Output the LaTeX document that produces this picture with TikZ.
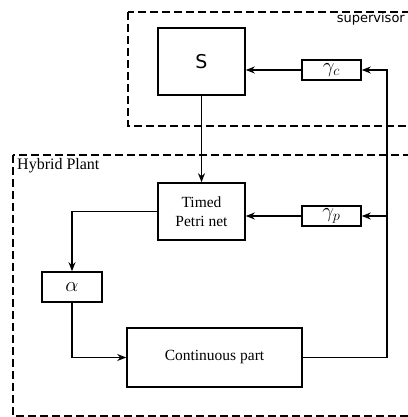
\documentclass[tikz,border=0pt]{standalone}
\usepackage{fontspec}
\setmainfont{Liberation Serif}
\setsansfont{DejaVu Sans}
\usetikzlibrary{arrows.meta}
\begin{document}
\begin{tikzpicture}[x=1pt,y=-1pt,
  blk/.style={draw,line width=1.6pt,minimum width=#1,inner sep=0pt,align=center,font=\fontsize{15.5}{19}\selectfont},
  sym/.style={font=\fontsize{20}{22}\selectfont},
  region/.style={draw,line width=1.8pt,dash pattern=on 8pt off 4pt},
  conn/.style={line width=1.5pt},
  arr/.style={conn,-{Stealth[length=9pt,width=7pt]}}]
\useasboundingbox (0,0) rectangle (407,417);
% regions
\draw[region] (128,12) rectangle (425,126);
\node[anchor=south east,font=\sffamily\fontsize{13}{15}\selectfont,inner sep=0pt] (suplbl) at (405,25) {supervisor};
\draw[region] (13,155) rectangle (425,416);
\node[anchor=south west,font=\fontsize{16}{18}\selectfont,inner sep=0pt] (hplbl) at (17,173) {Hybrid Plant};
% blocks
\node[blk=87pt,minimum height=67pt,font=\sffamily\fontsize{19}{22}\selectfont] (S) at (201.5,61.5) {S};
\node[blk=59pt,minimum height=20pt,sym] (gc) at (331.5,70) {$\gamma_c$};
\node[blk=87pt,minimum height=57pt] (tpn) at (201.5,211.5) {Timed\\Petri net};
\node[blk=59pt,minimum height=20pt,sym] (gp) at (331.5,216) {$\gamma_p$};
\node[blk=60pt,minimum height=30pt,sym] (al) at (72,287) {$\alpha$};
\node[blk=175pt,minimum height=59pt] (cp) at (214.5,357.5) {Continuous part};
% bus
\coordinate (bus) at (387,357.5);
% connectors
\draw[arr] (gc.west) -- (gc.west -| S.east);
\draw[arr] (S.south) -- (tpn.north);
\draw[arr] (gp.west) -- (gp.west -| tpn.east);
\draw[arr] (cp.east) -- (bus) |- (gc.east);
\draw[arr] (bus |- gp.east) -- (gp.east);
\draw[arr] (tpn.west) -| (al.north);
\draw[arr] (al.south) |- (cp.west);
\end{tikzpicture}
\end{document}
